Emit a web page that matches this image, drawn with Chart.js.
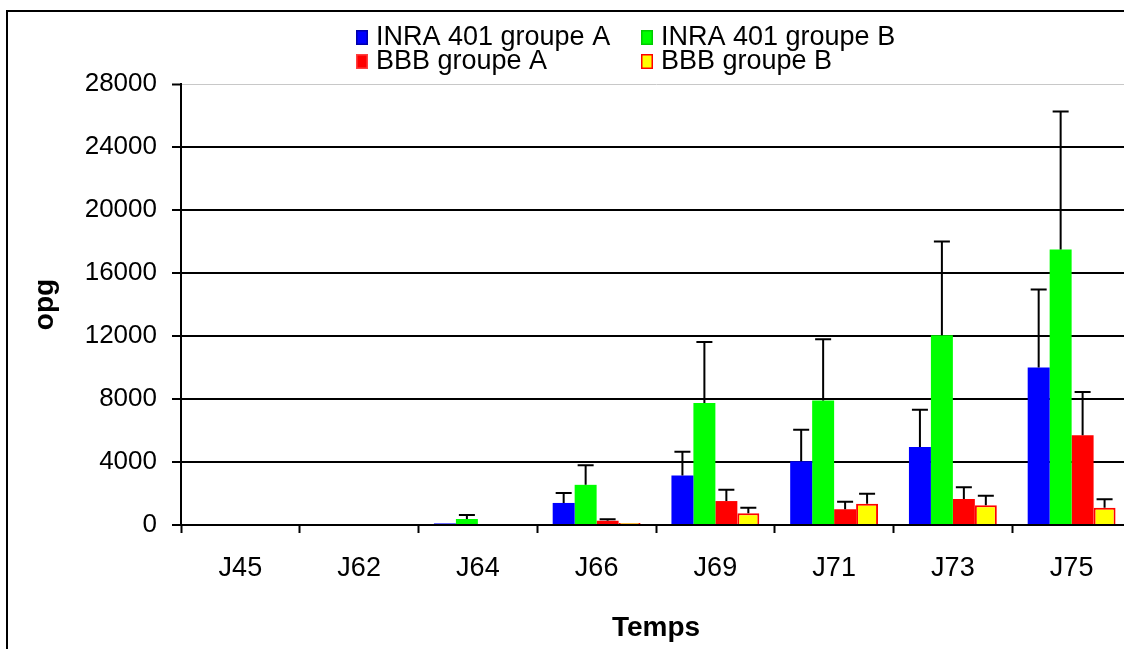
<!DOCTYPE html>
<html>
<head>
<meta charset="utf-8">
<script src="https://cdn.jsdelivr.net/npm/chart.js@4/dist/chart.umd.min.js"></script>
<style>
  html, body { margin: 0; padding: 0; background: #fff; overflow: hidden; }
  #frame { position: absolute; left: 6px; top: 10px; width: 1300px; height: 800px; border: 2px solid #000; }
  #myChart { position: absolute; left: 0; top: 0; }
</style>
</head>
<body>
<div id="frame"></div>
<canvas id="myChart" width="1160" height="660"></canvas>
<script>
let labels = ["J45", "J62", "J64", "J66", "J69", "J71", "J73", "J75"]
let seriesNames = ["INRA 401 groupe A", "INRA 401 groupe B", "BBB groupe A", "BBB groupe B"]
let inraA = [0, 0, 100, 1400, 3150, 4050, 4950, 10000]
let inraB = [0, 0, 380, 2550, 7750, 7900, 12050, 17500]
let bbbA = [0, 0, 0, 270, 1520, 1000, 1650, 5700]
let bbbB = [0, 0, 0, 120, 740, 1350, 1250, 1100]
// upper error bar (standard deviation)
let inraAErr = [0, 0, 0, 630, 1500, 2000, 2370, 4950]
let inraBErr = [0, 0, 250, 1250, 3870, 3900, 5950, 8750]
let bbbAErr = [0, 0, 0, 100, 720, 480, 740, 2750]
let bbbBErr = [0, 0, 0, 0, 360, 640, 610, 530]
let yTicks = [0, 4000, 8000, 12000, 16000, 20000, 24000, 28000]

const FONT = "'Liberation Sans', Arial, sans-serif"

const errorBars = {
  id: 'errorBars',
  afterDatasetsDraw(chart) {
    const ctx = chart.ctx
    const y = chart.scales.y
    ctx.save()
    ctx.strokeStyle = '#000'
    ctx.lineWidth = 2
    chart.data.datasets.forEach((ds, i) => {
      const meta = chart.getDatasetMeta(i)
      meta.data.forEach((bar, j) => {
        const err = ds.errors[j]
        if (!err) return
        const top = y.getPixelForValue(ds.data[j] + err)
        ctx.beginPath()
        ctx.moveTo(bar.x, bar.y)
        ctx.lineTo(bar.x, top)
        ctx.moveTo(bar.x - 8, top)
        ctx.lineTo(bar.x + 8, top)
        ctx.stroke()
      })
    })
    ctx.restore()
  }
}

// legend in two aligned columns, like the original
const sideLegend = {
  id: 'sideLegend',
  afterDraw(chart) {
    const ctx = chart.ctx
    ctx.save()
    ctx.font = '27px ' + FONT
    ctx.textBaseline = 'middle'
    chart.data.datasets.forEach((ds, i) => {
      const col = i % 2, row = Math.floor(i / 2)
      const bx = col ? 641 : 356
      const cy = 37 + row * 24
      ctx.fillStyle = ds.backgroundColor
      ctx.fillRect(bx, cy - 7, 12, 15)
      ctx.strokeStyle = ds.borderColor
      ctx.lineWidth = 1.5
      ctx.strokeRect(bx + 0.75, cy - 6.25, 10.5, 13.5)
      ctx.fillStyle = '#000'
      ctx.fillText(ds.label, bx + 20, cy + 1)
    })
    ctx.restore()
  }
}

new Chart(document.getElementById('myChart').getContext('2d'), {
  type: 'bar',
  data: {
    labels: labels,
    datasets: [
      { label: seriesNames[0], data: inraA, errors: inraAErr, backgroundColor: '#0000ff', borderColor: '#0000aa', borderWidth: 0 },
      { label: seriesNames[1], data: inraB, errors: inraBErr, backgroundColor: '#00ff00', borderColor: '#00cc00', borderWidth: 0 },
      { label: seriesNames[2], data: bbbA, errors: bbbAErr, backgroundColor: '#ff0000', borderColor: '#ff4040', borderWidth: 0 },
      { label: seriesNames[3], data: bbbB, errors: bbbBErr, backgroundColor: '#ffff00', borderColor: '#ff0000', borderWidth: 2 }
    ]
  },
  options: {
    responsive: false,
    animation: false,
    categoryPercentage: 0.74,
    barPercentage: 1,
    layout: { padding: { left: 0, right: 29, top: 84, bottom: 0 } },
    plugins: { legend: { display: false }, tooltip: { enabled: false } },
    scales: {
      x: {
        afterFit(s) { s.height = 135 },
        grid: { drawOnChartArea: false, drawTicks: true, tickLength: 8, tickColor: '#000', tickWidth: 2, offset: true },
        border: { color: '#000', width: 2 },
        ticks: { color: '#000', font: { family: FONT, size: 27 }, padding: 19, maxRotation: 0 },
        title: { display: true, text: 'Temps', color: '#000', font: { family: FONT, size: 28, weight: 'bold' }, padding: { bottom: 15 } }
      },
      y: {
        min: 0,
        max: 28000,
        afterFit(s) { s.width = 181 },
        afterBuildTicks(s) { s.ticks = yTicks.map(v => ({ value: v })) },
        grid: {
          color: c => c.tick && c.tick.value === 28000 ? '#c8c8c8' : '#000',
          lineWidth: c => c.tick && c.tick.value === 28000 ? 1 : 2,
          tickLength: 9, tickColor: '#000', tickWidth: 2
        },
        border: { color: '#000', width: 2 },
        ticks: { color: '#000', font: { family: FONT, size: 26 }, padding: 15, callback: v => String(v) },
        title: { display: true, text: 'opg', color: '#000', font: { family: FONT, size: 28, weight: 'bold' }, padding: { top: 28 } }
      }
    }
  },
  plugins: [errorBars, sideLegend]
})
</script>
</body>
</html>
